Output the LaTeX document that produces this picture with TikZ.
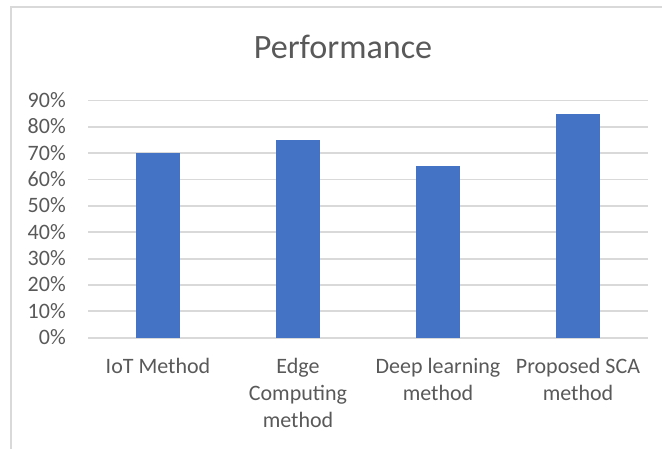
\documentclass[tikz,border=0pt]{standalone}
\usepackage{fontspec}
\setmainfont{Carlito}
\usepackage{xcolor}
\usepackage{tikz}
\definecolor{perfbar}{HTML}{4472C4}
\definecolor{perftext}{HTML}{595959}
\definecolor{perfgrid}{HTML}{D9D9D9}

\begin{document}
\begin{tikzpicture}[x=0.75pt,y=-0.75pt,
    grid/.style={perfgrid, line width=1.3pt},
    lab/.style={text=perftext, inner sep=0pt, font=\fontsize{16.5}{20.25}\selectfont},
    cat/.style={lab, anchor=north, align=center},
    bar/.style={fill=perfbar, draw=none}]
  \useasboundingbox (0,0) rectangle (662,449);
  % chart frame (cut off at right and bottom)
  \draw[perfgrid, line width=1pt] (11,449) -- (11,7) -- (662,7);
  \node[lab, anchor=base, font=\fontsize{25.6}{30}\selectfont] (T) at (343,59) {Performance};
  % gridlines and axis labels
  \foreach \k [evaluate=\k as \p using int(10*\k)] in {0,...,9} {
    \draw[grid] (88,337.7-26.35*\k) -- (648,337.7-26.35*\k);
    \node[lab, anchor=base east] (Y\k) at (66,337.7-26.35*\k+7) {\p\%};
  }
  % bars
  \foreach \c/\v in {1/70,2/75,3/65,4/85}
    \fill[bar] (18+140*\c-22,337.7) rectangle (18+140*\c+22,337.7-2.635*\v);
  % category labels
  \node[cat] (C1) at (158,354.1) {\strut IoT Method};
  \node[cat] (C2) at (298,354.1) {\strut Edge\\Computing\\method};
  \node[cat] (C3) at (438,354.1) {\strut Deep learning\\method};
  \node[cat] (C4) at (578,354.1) {\strut Proposed SCA\\method};
\end{tikzpicture}
\end{document}
